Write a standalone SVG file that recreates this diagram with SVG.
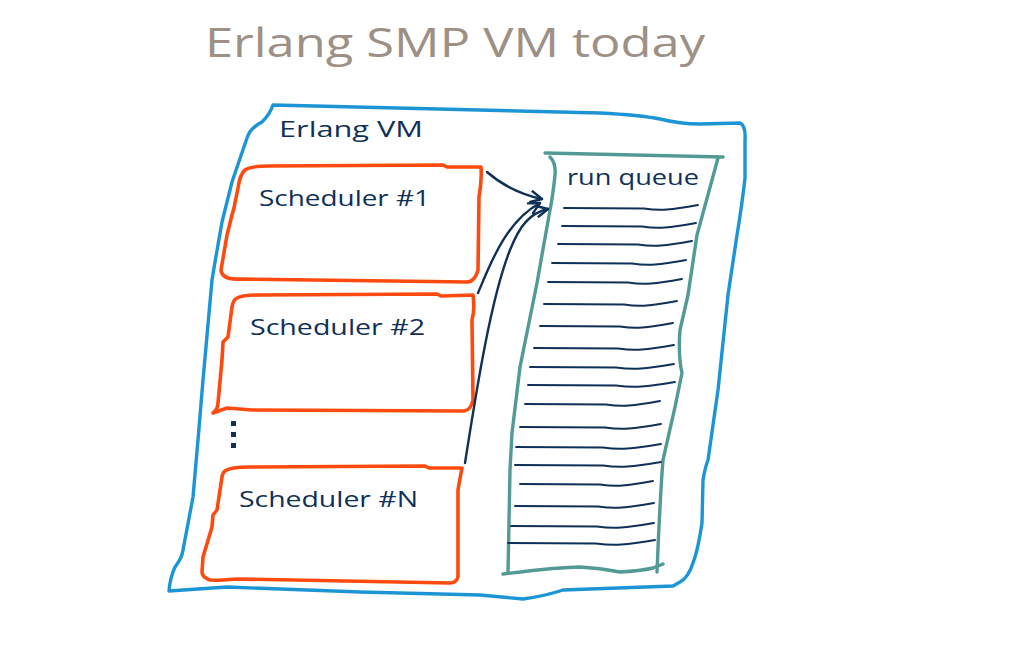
<svg xmlns="http://www.w3.org/2000/svg" width="1010" height="650" viewBox="0 0 1010 650">
<style>
.frame{fill:none;stroke:#1b95d5;stroke-width:3.4;stroke-linejoin:round;stroke-linecap:round}
.box{fill:none;stroke:#ff4a0f;stroke-width:3.6;stroke-linejoin:round;stroke-linecap:round}
.queue{fill:none;stroke:#529a95;stroke-width:3.4;stroke-linejoin:round;stroke-linecap:round}
.qline{fill:none;stroke:#0f3057;stroke-width:1.9;stroke-linecap:round}
.arrow{fill:none;stroke:#0f3057;stroke-width:2.4;stroke-linecap:round}
.lbl{font-family:"Open Sans","Liberation Sans",sans-serif;fill:#0f3057;font-size:22px}
.title{font-family:"Open Sans","Liberation Sans",sans-serif;fill:#9d9085;font-size:40px}
</style>
<defs>
<marker id="ah" markerUnits="userSpaceOnUse" markerWidth="16" markerHeight="16" refX="12" refY="7" orient="auto">
<path d="M1,1.5 L12,7 L1,12.5" fill="none" stroke="#0f3057" stroke-width="2.4" stroke-linecap="round" stroke-linejoin="round"/>
</marker>
</defs>
<rect width="1010" height="650" fill="#ffffff"/>
<text class="title" x="205" y="57" textLength="500" lengthAdjust="spacingAndGlyphs">Erlang SMP VM today</text>
<g id="erlang-vm">
<path class="frame" d="M273,105 L600,113 Q640,115 660,119 Q680,124 700,124 L740,123 Q746,126 745,140 L745,178 Q742,205 737,235 L728,295 L718,390 L708,460 Q705,468 703,480 L702,523 Q698,550 693,563 Q688,578 680,582 L673,586 L563,590 Q545,596 523,599 L480,595 L360,592 L227,587 L169,591 Q170,578 175,567 Q182,558 183,550 L193,497 L198,440 L203,380 L212,280 L215,262 L222,222 L232,182 L247,138 Q250,128 262,122 Q270,114 273,105 Z"/>
<text class="lbl" x="279" y="137" textLength="144" lengthAdjust="spacingAndGlyphs">Erlang VM</text>
</g>
<g id="scheduler-1">
<path class="box" d="M245,170 Q250,166 270,166 L443,165 L447,167 L481,167 Q482,180 479,197 L478,270 Q475,281 468,282 L240,279 Q222,280 221,270 L227,235 L232,215 L234,208 L238,188 Q240,174 245,170 Z"/>
<text class="lbl" x="259" y="206" textLength="171" lengthAdjust="spacingAndGlyphs">Scheduler #1</text>
</g>
<g id="scheduler-2">
<path class="box" d="M237,298 Q242,295 260,295 L437,294 L441,296 L473,295 Q475,310 472,320 L473,400 Q471,410 464,411 L252,410 L227,408 L213,413 Q218,409 218,403 L222,360 L223,342 L228,337 L232,307 Q233,300 237,298 Z"/>
<text class="lbl" x="250" y="335" textLength="175" lengthAdjust="spacingAndGlyphs">Scheduler #2</text>
</g>
<g id="ellipsis" fill="#0f3057">
<rect x="231" y="421" width="5" height="5"/>
<rect x="231" y="432" width="5" height="5"/>
<rect x="231" y="443" width="5" height="5"/>
</g>
<g id="scheduler-n">
<path class="box" d="M227,470 Q232,467 250,467 L425,466 L429,468 L462,468 Q460,478 458,490 L458,577 Q456,583 450,583 L237,579 Q212,581 210,580 Q202,577 202,572 L203,557 L212,527 L213,515 L217,510 L222,477 Q223,471 227,470 Z"/>
<text class="lbl" x="239" y="507" textLength="179" lengthAdjust="spacingAndGlyphs">Scheduler #N</text>
</g>
<g id="run-queue">
<path class="queue" d="M545,153 L723,157"/>
<path class="queue" d="M550,157 Q556,163 555,175 Q553,195 550,210 L537,283 L520,367 L512,433 L510,470 L508,573"/>
<path class="queue" d="M503,574 Q560,567 580,567 Q600,568 620,572 Q640,571 653,568 L663,564"/>
<path class="queue" d="M718,158 L697,235 L688,295 L680,330 Q678,355 682,373 L675,407 L663,460 L662,473 Q659,520 657,572"/>
<text class="lbl" x="567" y="185" textLength="132" lengthAdjust="spacingAndGlyphs">run queue</text>
<g>
<path class="qline" d="M564,208 L644,208.5 C660,211 671,210 698,205"/>
<path class="qline" d="M562,226 L642,226.5 C658,229 669,228 696,223"/>
<path class="qline" d="M558,244 L638,244.5 C654,247 665,246 692,241"/>
<path class="qline" d="M552,263 L632,263.5 C648,266 659,265 686,260"/>
<path class="qline" d="M548,282 L628,282.5 C644,285 655,284 682,279"/>
<path class="qline" d="M544,304 L624,304.5 C640,307 650,306 677,301"/>
<path class="qline" d="M540,326 L620,326.5 C636,329 646,328 673,323"/>
<path class="qline" d="M534,348 L618,348.5 C635,351 646,350 674,345"/>
<path class="qline" d="M530,367 L616,367.5 C634,370 645,369 674,364"/>
<path class="qline" d="M528,385 L616,385.5 C634,388 646,387 675,382"/>
<path class="qline" d="M525,404 L606,404.5 C622,407 633,406 660,401"/>
<path class="qline" d="M520,427 L605,427.5 C622,430 633,429 661,424"/>
<path class="qline" d="M516,447 L603,447.5 C620,450 632,449 661,444"/>
<path class="qline" d="M515,465 L603,465.5 C620,468 632,467 661,462"/>
<path class="qline" d="M520,484 L600,484.5 C616,487 626,486 653,481"/>
<path class="qline" d="M515,506 L598,506.5 C615,509 626,508 654,503"/>
<path class="qline" d="M511,526 L597,526.5 C614,529 625,528 654,523"/>
<path class="qline" d="M508,543 L596,543.5 C614,546 626,545 655,540"/>
</g>
</g>
<g id="connectors">
<path class="arrow" marker-end="url(#ah)" d="M487,172 Q510,192 542,199"/>
<path class="arrow" marker-end="url(#ah)" d="M478,293 C490,265 505,222 540,203"/>
<path class="arrow" marker-end="url(#ah)" d="M465,463 C475,400 490,300 510,250 C520,225 530,213 548,209"/>
</g>
</svg>
